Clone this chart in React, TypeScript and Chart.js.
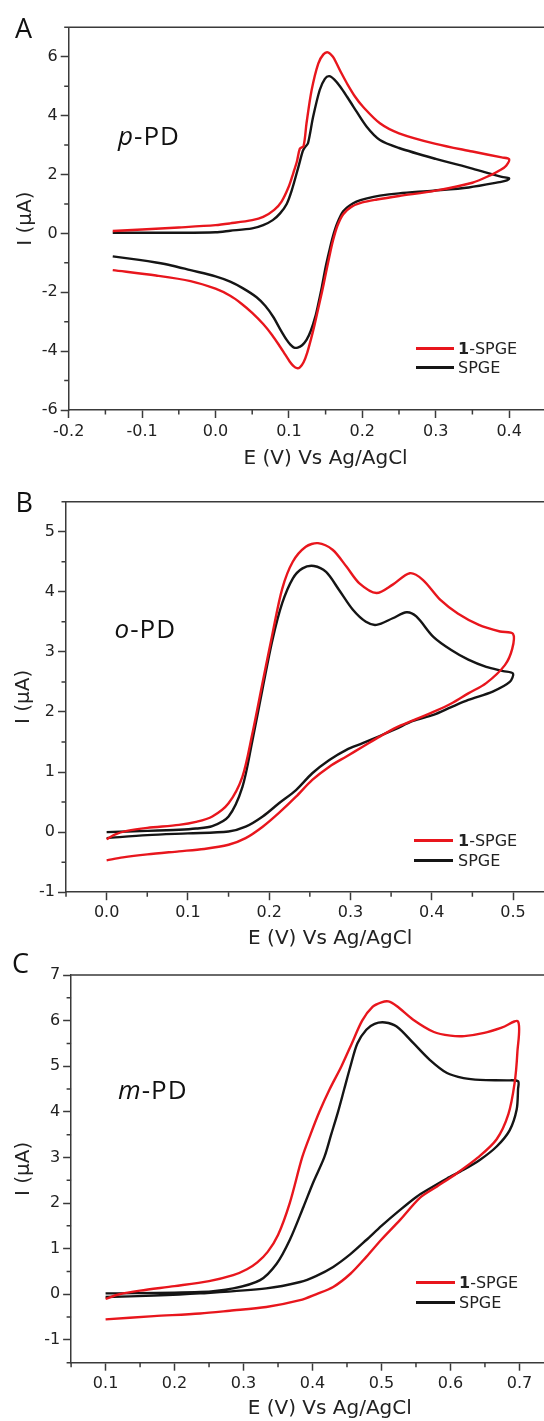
import React, { useEffect, useRef } from "react";
import { Chart, registerables } from "chart.js";

Chart.register(...registerables);

// ---------------- data (E in V, I in µA) ----------------
// Panel A : p-PD
const A_RED_E = [-0.14, -0.1, -0.05, 0.0, 0.02, 0.05, 0.065, 0.08, 0.09, 0.1, 0.106, 0.111, 0.115, 0.12, 0.124, 0.131, 0.14, 0.147, 0.153, 0.16, 0.165, 0.172, 0.179, 0.19, 0.201, 0.224, 0.25, 0.3, 0.35, 0.39, 0.4,
  0.396, 0.388, 0.375, 0.35, 0.3, 0.25, 0.22, 0.2, 0.185, 0.174, 0.166, 0.16, 0.155, 0.15, 0.145, 0.14, 0.135, 0.13, 0.125, 0.12, 0.115, 0.111, 0.106, 0.101, 0.095, 0.088, 0.077, 0.065, 0.05, 0.035, 0.02, 0.0, -0.034, -0.081, -0.14];
const A_RED_I = [0.08, 0.13, 0.2, 0.28, 0.34, 0.45, 0.56, 0.8, 1.08, 1.6, 2.05, 2.45, 2.88, 2.97, 3.74, 4.87, 5.77, 6.08, 6.15, 6.0, 5.77, 5.42, 5.1, 4.65, 4.3, 3.74, 3.4, 3.04, 2.78, 2.58, 2.52,
  2.3, 2.15, 1.98, 1.72, 1.45, 1.27, 1.15, 1.05, 0.9, 0.65, 0.25, -0.25, -0.8, -1.4, -2.0, -2.55, -3.1, -3.6, -4.05, -4.38, -4.55, -4.58, -4.5, -4.35, -4.12, -3.85, -3.45, -3.08, -2.7, -2.38, -2.12, -1.88, -1.62, -1.43, -1.25];
const A_BLK_E = [-0.14, -0.1, -0.05, 0.0, 0.02, 0.05, 0.065, 0.078, 0.088, 0.097, 0.104, 0.113, 0.119, 0.122, 0.126, 0.133, 0.142, 0.149, 0.155, 0.162, 0.17, 0.179, 0.188, 0.206, 0.224, 0.25, 0.3, 0.35, 0.39, 0.4,
  0.397, 0.387, 0.345, 0.297, 0.25, 0.224, 0.205, 0.192, 0.183, 0.174, 0.166, 0.16, 0.155, 0.15, 0.145, 0.14, 0.136, 0.13, 0.124, 0.118, 0.112, 0.107, 0.102, 0.097, 0.088, 0.079, 0.068, 0.056, 0.037, 0.02, 0.0, -0.034, -0.06, -0.081, -0.104, -0.14];
const A_BLK_I = [0.02, 0.02, 0.02, 0.04, 0.09, 0.17, 0.28, 0.45, 0.68, 1.0, 1.47, 2.26, 2.8, 2.93, 3.06, 3.96, 4.87, 5.25, 5.34, 5.22, 4.98, 4.65, 4.3, 3.62, 3.17, 2.9, 2.53, 2.2, 1.92, 1.87,
  1.8, 1.74, 1.56, 1.45, 1.36, 1.28, 1.18, 1.08, 0.95, 0.75, 0.35, -0.1, -0.6, -1.15, -1.81, -2.4, -2.83, -3.3, -3.62, -3.8, -3.88, -3.88, -3.78, -3.62, -3.25, -2.85, -2.47, -2.17, -1.86, -1.64, -1.46, -1.25, -1.09, -0.99, -0.9, -0.78];

// Panel B : o-PD
const B_RED_E = [0.0, 0.01, 0.025, 0.05, 0.089, 0.11, 0.13, 0.15, 0.167, 0.179, 0.192, 0.204, 0.216, 0.229, 0.245, 0.26, 0.278, 0.295, 0.311, 0.332, 0.352, 0.373, 0.389, 0.411, 0.432, 0.458, 0.484, 0.5,
  0.499, 0.49, 0.467, 0.445, 0.424, 0.402, 0.377, 0.356, 0.336, 0.315, 0.295, 0.274, 0.253, 0.233, 0.212, 0.192, 0.171, 0.15, 0.12, 0.089, 0.05, 0.02, 0.0];
const B_RED_I = [-0.12, -0.04, 0.02, 0.07, 0.12, 0.17, 0.26, 0.48, 0.92, 1.62, 2.5, 3.3, 4.05, 4.5, 4.75, 4.81, 4.7, 4.42, 4.14, 3.98, 4.12, 4.31, 4.2, 3.86, 3.64, 3.45, 3.34, 3.3,
  3.05, 2.78, 2.48, 2.31, 2.14, 2.0, 1.86, 1.74, 1.59, 1.42, 1.26, 1.09, 0.87, 0.59, 0.32, 0.09, -0.1, -0.21, -0.28, -0.32, -0.37, -0.42, -0.47];
const B_BLK_E = [0.0, 0.05, 0.089, 0.11, 0.13, 0.15, 0.167, 0.179, 0.192, 0.204, 0.216, 0.229, 0.241, 0.255, 0.27, 0.286, 0.303, 0.319, 0.332, 0.352, 0.369, 0.381, 0.402, 0.424, 0.445, 0.467, 0.488, 0.5,
  0.496, 0.475, 0.445, 0.424, 0.402, 0.377, 0.356, 0.336, 0.315, 0.295, 0.274, 0.253, 0.233, 0.212, 0.192, 0.171, 0.15, 0.1, 0.05, 0.0];
const B_BLK_I = [0.0, 0.02, 0.04, 0.06, 0.1, 0.26, 0.75, 1.5, 2.4, 3.2, 3.81, 4.22, 4.39, 4.43, 4.33, 4.03, 3.7, 3.5, 3.45, 3.56, 3.66, 3.59, 3.25, 3.03, 2.87, 2.75, 2.68, 2.64,
  2.5, 2.34, 2.2, 2.08, 1.95, 1.85, 1.72, 1.6, 1.48, 1.37, 1.2, 0.98, 0.7, 0.48, 0.26, 0.09, 0.01, -0.02, -0.05, -0.1];

// Panel C : m-PD
const C_RED_E = [0.1, 0.12, 0.15, 0.2, 0.25, 0.285, 0.305, 0.32, 0.335, 0.35, 0.367, 0.385, 0.397, 0.41, 0.425, 0.442, 0.457, 0.472, 0.487, 0.5, 0.51, 0.522, 0.546, 0.576, 0.6, 0.62, 0.649, 0.675, 0.698,
  0.697, 0.693, 0.684, 0.667, 0.64, 0.609, 0.58, 0.556, 0.527, 0.5, 0.478, 0.455, 0.43, 0.405, 0.382, 0.333, 0.28, 0.237, 0.17, 0.1];
const C_RED_I = [-0.1, 0.0, 0.08, 0.18, 0.29, 0.42, 0.55, 0.7, 0.93, 1.3, 2.0, 3.0, 3.5, 4.0, 4.5, 5.0, 5.5, 6.0, 6.3, 6.4, 6.42, 6.32, 6.02, 5.75, 5.67, 5.66, 5.73, 5.85, 5.98,
  5.3, 4.63, 3.95, 3.4, 3.0, 2.65, 2.36, 2.12, 1.63, 1.2, 0.82, 0.45, 0.16, 0.0, -0.13, -0.28, -0.36, -0.42, -0.48, -0.55];
const C_BLK_E = [0.1, 0.237, 0.285, 0.324, 0.348, 0.367, 0.387, 0.401, 0.417, 0.427, 0.437, 0.446, 0.455, 0.465, 0.478, 0.49, 0.505, 0.522, 0.546, 0.57, 0.595, 0.619, 0.643, 0.682, 0.698,
  0.698, 0.696, 0.686, 0.667, 0.643, 0.619, 0.595, 0.57, 0.551, 0.527, 0.5, 0.478, 0.455, 0.43, 0.405, 0.382, 0.333, 0.237, 0.17, 0.1];
const C_BLK_I = [0.02, 0.05, 0.13, 0.31, 0.67, 1.19, 1.92, 2.45, 3.0, 3.5, 4.0, 4.5, 5.0, 5.5, 5.8, 5.93, 5.96, 5.87, 5.51, 5.14, 4.85, 4.74, 4.7, 4.69, 4.67,
  4.5, 4.05, 3.6, 3.24, 2.95, 2.73, 2.54, 2.32, 2.14, 1.85, 1.5, 1.19, 0.88, 0.6, 0.4, 0.27, 0.13, 0.02, -0.03, -0.06];

const SERIES_NAMES = ["1-SPGE", "SPGE"];
const X_TITLE = "E (V) Vs Ag/AgCl";
const Y_TITLE = "I (\u03bcA)";

// ---------------- styles / layout ----------------
const RED = "#e8161d";
const BLACK = "#151515";
const AXIS = "#3a3a3a";
const TEXT = "#222222";
const FONT = "'DejaVu Sans', 'Liberation Sans', Arial, sans-serif";
const LABEL_FONT = "'Open Sans', 'Noto Sans', sans-serif";
const CANVAS_W = 640;

type Panel = {
  letter: string; isomer: string; top: number; height: number;
  area: { left: number; top: number; right: number; bottom: number };
  x: { min: number; max: number; step: number; minor: number };
  y: { min: number; max: number; step: number; minor: number };
  xLabelPad: number; xTitlePad: number; yTitlePad: number;
  letterPos: { x: number; base: number };
  notePos: { x: number; base: number };
  legend: { x1: number; x2: number; tx: number; yRed: number; yBlack: number };
  series: { e: number[]; i: number[]; color: string }[];
};

const PANELS: Panel[] = [
  {
    letter: "A", isomer: "p", top: 0, height: 480,
    area: { left: 68.7, top: 27.3, right: 582.5, bottom: 410 },
    x: { min: -0.2, max: 0.5, step: 0.1, minor: 0.05 },
    y: { min: -6, max: 7, step: 2, minor: 1 },
    xLabelPad: 4.5, xTitlePad: 9, yTitlePad: 14,
    letterPos: { x: 15, base: 38.3 },
    notePos: { x: 118, base: 145 },
    legend: { x1: 416, x2: 454, tx: 458, yRed: 348.3, yBlack: 367.7 },
    series: [
      { e: A_RED_E, i: A_RED_I, color: RED },
      { e: A_BLK_E, i: A_BLK_I, color: BLACK },
    ],
  },
  {
    letter: "B", isomer: "o", top: 470, height: 490,
    area: { left: 66, top: 501.7, right: 594.3, bottom: 892.2 },
    x: { min: -0.05, max: 0.6, step: 0.1, minor: 0.05 },
    y: { min: -1, max: 5.5, step: 1, minor: 0.5 },
    xLabelPad: 3.5, xTitlePad: 9, yTitlePad: 12,
    letterPos: { x: 15.6, base: 511.7 },
    notePos: { x: 114.5, base: 638 },
    legend: { x1: 414, x2: 453, tx: 458, yRed: 840.7, yBlack: 860.7 },
    series: [
      { e: B_RED_E, i: B_RED_I, color: RED },
      { e: B_BLK_E, i: B_BLK_I, color: BLACK },
    ],
  },
  {
    letter: "C", isomer: "m", top: 945, height: 490,
    area: { left: 71.1, top: 975, right: 588.4, bottom: 1362.7 },
    x: { min: 0.05, max: 0.8, step: 0.1, minor: 0.05 },
    y: { min: -1.5, max: 7, step: 1, minor: 0.5 },
    xLabelPad: 4, xTitlePad: 14, yTitlePad: 12,
    letterPos: { x: 12, base: 973.3 },
    notePos: { x: 118, base: 1099 },
    legend: { x1: 416, x2: 455, tx: 459, yRed: 1282.3, yBlack: 1302.7 },
    series: [
      { e: C_RED_E, i: C_RED_I, color: RED },
      { e: C_BLK_E, i: C_BLK_I, color: BLACK },
    ],
  },
];

function minorValues(min: number, max: number, minor: number, major: number) {
  const out: number[] = [];
  const start = Math.ceil(min / minor - 1e-9);
  const end = Math.floor(max / minor + 1e-9);
  for (let k = start; k <= end; k++) {
    const v = k * minor;
    const r = v / major;
    if (Math.abs(r - Math.round(r)) > 1e-6) out.push(v);
  }
  return out;
}

function framePlugin(p: Panel) {
  return {
    id: "frameAndMinor",
    afterDraw(chart: any) {
      const { ctx, chartArea: a, scales } = chart;
      const xs = scales.x;
      const ys = scales.y;
      ctx.save();
      ctx.strokeStyle = AXIS;
      ctx.lineWidth = 1.5;
      ctx.beginPath();
      ctx.moveTo(a.left, a.top);
      ctx.lineTo(a.right, a.top);
      ctx.lineTo(a.right, a.bottom);
      for (const v of minorValues(p.x.min, p.x.max, p.x.minor, p.x.step)) {
        const px = xs.getPixelForValue(v);
        ctx.moveTo(px, a.bottom);
        ctx.lineTo(px, a.bottom + 4.5);
      }
      for (const v of minorValues(p.y.min, p.y.max, p.y.minor, p.y.step)) {
        const py = ys.getPixelForValue(v);
        ctx.moveTo(a.left, py);
        ctx.lineTo(a.left - 4.5, py);
      }
      ctx.stroke();
      ctx.restore();
    },
  };
}

function fmt1(v: any) {
  const n = Number(v);
  return (Math.abs(n) < 1e-9 ? 0 : n).toFixed(1);
}
function fmtInt(v: any) {
  const n = Math.round(Number(v) * 10) / 10;
  return String(Math.abs(n) < 1e-9 ? 0 : n);
}

function makeChart(canvas: HTMLCanvasElement, p: Panel) {
  const H = p.height;
  const left = p.area.left;
  const top = p.area.top - p.top;
  const bottom = p.area.bottom - p.top;
  const right = p.area.right;
  const axisCommon = {
    grid: { drawOnChartArea: false, drawTicks: true, tickLength: 8, tickColor: AXIS, tickWidth: 1.5 },
    border: { display: true, color: AXIS, width: 1.5 },
  };
  return new Chart(canvas, {
    type: "line",
    data: {
      datasets: p.series.map((s, k) => ({
        label: SERIES_NAMES[k],
        data: s.e.map((x, j) => ({ x, y: s.i[j] })),
        borderColor: s.color,
        backgroundColor: s.color,
        borderWidth: 2.4,
        pointRadius: 0,
        tension: 0.3,
        fill: false,
      })),
    },
    options: {
      animation: false,
      responsive: false,
      maintainAspectRatio: false,
      devicePixelRatio: 1,
      events: [],
      layout: { padding: { left: 0, top, right: CANVAS_W - right, bottom: 0 } },
      plugins: { legend: { display: false }, tooltip: { enabled: false }, title: { display: false } },
      scales: {
        x: {
          type: "linear",
          position: "bottom",
          min: p.x.min,
          max: p.x.max,
          afterFit: (s: any) => { s.height = H - bottom; },
          ticks: {
            stepSize: p.x.step,
            includeBounds: false,
            autoSkip: false,
            maxRotation: 0,
            padding: p.xLabelPad,
            color: TEXT,
            font: { family: FONT, size: 16 },
            callback: fmt1,
          },
          title: {
            display: true,
            text: X_TITLE,
            color: TEXT,
            font: { family: FONT, size: 20 },
            padding: { top: 0, bottom: p.xTitlePad },
          },
          ...axisCommon,
        },
        y: {
          type: "linear",
          position: "left",
          min: p.y.min,
          max: p.y.max,
          afterFit: (s: any) => { s.width = left; },
          ticks: {
            stepSize: p.y.step,
            includeBounds: false,
            autoSkip: false,
            padding: 3,
            color: TEXT,
            font: { family: FONT, size: 16 },
            callback: fmtInt,
          },
          title: {
            display: true,
            text: Y_TITLE,
            color: TEXT,
            font: { family: FONT, size: 20 },
            padding: { top: p.yTitlePad, bottom: 0 },
          },
          ...axisCommon,
        },
      },
    },
    plugins: [framePlugin(p)],
  } as any);
}

const LETTER_SIZE = 27;
const NOTE_SIZE = 26;
const LEG_SIZE = 16;
const OPEN_BASE = 0.888; // baseline offset (em) for Open Sans with line-height 1
const DEJAVU_BASE = 0.846; // baseline offset (em) for DejaVu Sans with line-height 1

export default function App() {
  const r0 = useRef<HTMLCanvasElement>(null);
  const r1 = useRef<HTMLCanvasElement>(null);
  const r2 = useRef<HTMLCanvasElement>(null);
  const refs = [r0, r1, r2];

  useEffect(() => {
    const charts = PANELS.map((p, k) => makeChart(refs[k].current as HTMLCanvasElement, p));
    return () => charts.forEach((c) => c.destroy());
  }, []);

  return (
    <div style={{ position: "fixed", left: 0, top: 0, width: 544, height: 1421, overflow: "hidden", background: "#ffffff" }}>
      {PANELS.map((p, k) => (
        <React.Fragment key={p.letter}>
          <canvas
            ref={refs[k]}
            width={CANVAS_W}
            height={p.height}
            style={{ position: "absolute", left: 0, top: p.top, width: CANVAS_W, height: p.height }}
          />
          <div
            style={{
              position: "absolute", left: p.letterPos.x, top: p.letterPos.base - OPEN_BASE * LETTER_SIZE,
              font: `${LETTER_SIZE}px/${LETTER_SIZE}px ${LABEL_FONT}`, color: "#111", whiteSpace: "nowrap",
            }}
          >
            {p.letter}
          </div>
          <div
            style={{
              position: "absolute", left: p.notePos.x, top: p.notePos.base - OPEN_BASE * NOTE_SIZE,
              font: `${NOTE_SIZE}px/${NOTE_SIZE}px ${LABEL_FONT}`, color: "#111", whiteSpace: "nowrap", letterSpacing: 1,
            }}
          >
            <i>{p.isomer}</i>-PD
          </div>
          {[p.legend.yRed, p.legend.yBlack].map((ly, j) => (
            <React.Fragment key={j}>
              <div
                style={{
                  position: "absolute", left: p.legend.x1, top: ly - 1.25, width: p.legend.x2 - p.legend.x1, height: 2.5,
                  background: j === 0 ? RED : BLACK,
                }}
              />
              <div
                style={{
                  position: "absolute", left: p.legend.tx, top: ly + 5.8 - DEJAVU_BASE * LEG_SIZE,
                  font: `${LEG_SIZE}px/${LEG_SIZE}px ${FONT}`, color: TEXT, whiteSpace: "nowrap",
                }}
              >
                {j === 0 ? (<><b>1</b>-SPGE</>) : SERIES_NAMES[1]}
              </div>
            </React.Fragment>
          ))}
        </React.Fragment>
      ))}
    </div>
  );
}
